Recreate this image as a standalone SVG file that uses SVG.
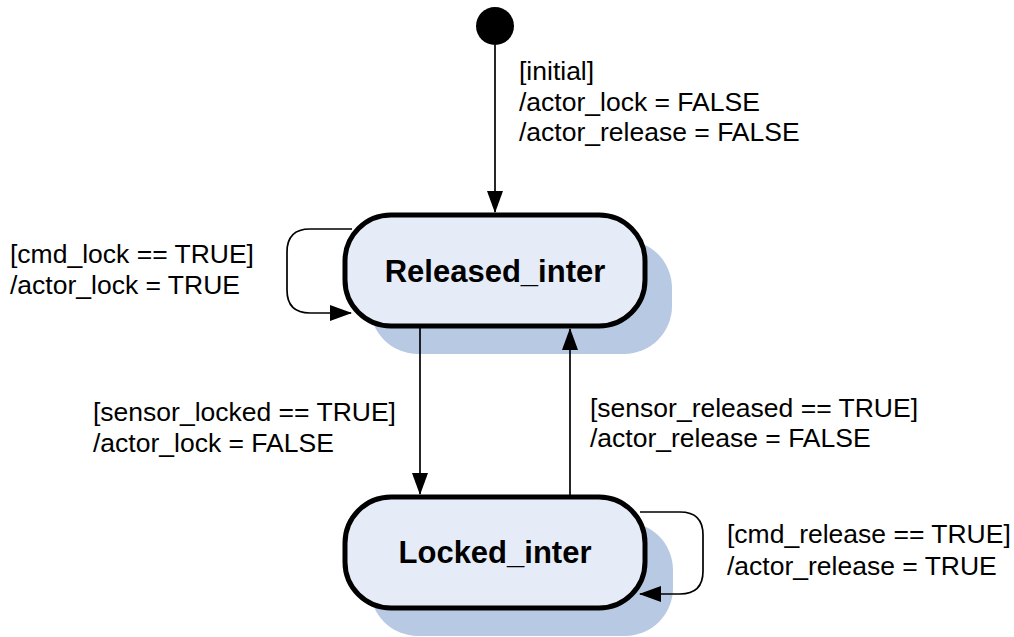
<svg xmlns="http://www.w3.org/2000/svg" width="1014" height="637" viewBox="0 0 1014 637">
<style>
.lbl{font-family:"Liberation Sans",Arial,sans-serif;font-size:26.5px;fill:#000}
.name{font-family:"Liberation Sans",Arial,sans-serif;font-size:31px;font-weight:bold;fill:#000;text-anchor:middle}
.box{fill:#e6ecf7;stroke:#000;stroke-width:5}
.shadow{fill:#b7c9e3}
.conn{fill:none;stroke:#000;stroke-width:1.7}
</style>
<defs>
<marker id="arr" viewBox="0 0 22 16" refX="21" refY="8" markerWidth="22" markerHeight="16" markerUnits="userSpaceOnUse" orient="auto">
<path d="M0,0 L22,8 L0,16 z" fill="#000"/>
</marker>
</defs>
<rect width="1014" height="637" fill="#fff"/>
<g id="initial">
<circle cx="495" cy="26" r="19" fill="#000"/>
</g>
<g id="released">
<rect class="shadow" x="370" y="240" width="302" height="114" rx="48"/>
<rect class="box" x="345" y="215" width="300" height="111" rx="46"/>
<text class="name" x="495" y="282">Released_inter</text>
</g>
<g id="locked">
<rect class="shadow" x="370" y="522" width="303" height="114" rx="48"/>
<rect class="box" x="345" y="497" width="300" height="111" rx="46"/>
<text class="name" x="495" y="563">Locked_inter</text>
</g>
<g id="connectors">
<line class="conn" x1="495" y1="45" x2="495" y2="212" marker-end="url(#arr)"/>
<path class="conn" d="M352,229 L310,229 Q287,229 287,252 L287,290 Q287,313 310,313 L351,313" marker-end="url(#arr)"/>
<line class="conn" x1="420" y1="328" x2="420" y2="494" marker-end="url(#arr)"/>
<line class="conn" x1="570" y1="495" x2="570" y2="329" marker-end="url(#arr)"/>
<path class="conn" d="M640,512 L680,512 Q703,512 703,535 L703,571 Q703,594 680,594 L640,594" marker-end="url(#arr)"/>
</g>
<g id="labels">
<text class="lbl" x="519" y="80">[initial]</text>
<text class="lbl" x="519" y="111">/actor_lock = FALSE</text>
<text class="lbl" x="519" y="141">/actor_release = FALSE</text>
<text class="lbl" x="10" y="263">[cmd_lock == TRUE]</text>
<text class="lbl" x="10" y="294">/actor_lock = TRUE</text>
<text class="lbl" x="93" y="421">[sensor_locked == TRUE]</text>
<text class="lbl" x="93" y="452">/actor_lock = FALSE</text>
<text class="lbl" x="590" y="417">[sensor_released == TRUE]</text>
<text class="lbl" x="590" y="447">/actor_release = FALSE</text>
<text class="lbl" x="727" y="543">[cmd_release == TRUE]</text>
<text class="lbl" x="727" y="575">/actor_release = TRUE</text>
</g>
</svg>
